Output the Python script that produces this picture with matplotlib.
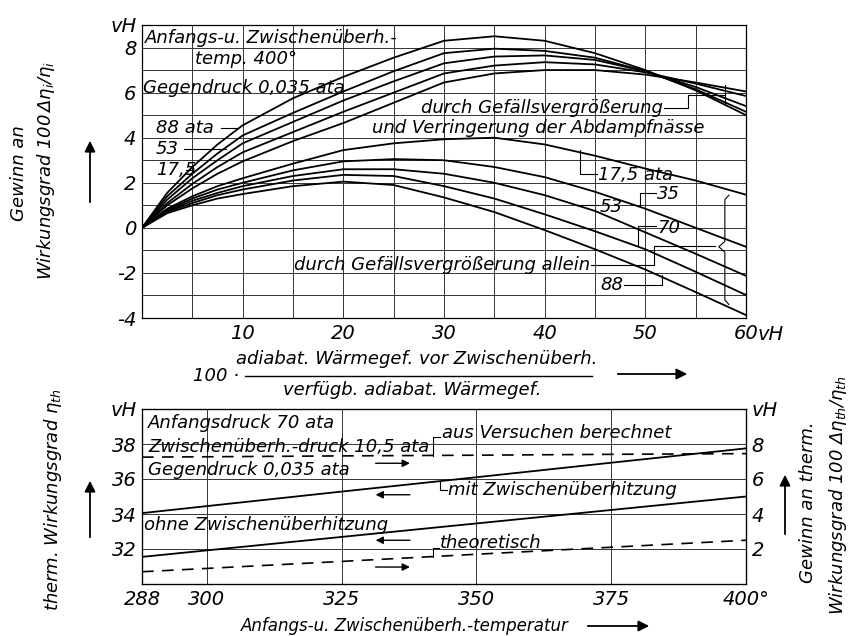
import numpy as np
import matplotlib
matplotlib.use('Agg')
import matplotlib.pyplot as plt

plt.rcParams['font.family'] = ['DejaVu Sans']
plt.rcParams['font.style'] = 'italic'
plt.rcParams['mathtext.fontset'] = 'dejavusans'

# ---- data: upper chart (Gewinn an Wirkungsgrad vs. Anteil Waermegefaelle)
x_share = [0, 2.5, 5, 7.5, 10, 15, 20, 25, 30, 35, 40, 45, 50, 55, 60]

# durch Gefaellsvergroesserung und Verringerung der Abdampfnaesse
nass_88 = [0, 1.55, 2.7, 3.7, 4.55, 5.75, 6.7, 7.55, 8.3, 8.5, 8.3, 7.75, 7.0, 6.1, 5.0]
nass_70 = [0, 1.4, 2.4, 3.3, 4.1, 5.1, 6.05, 6.95, 7.75, 7.95, 7.85, 7.55, 6.95, 6.15, 5.15]
nass_53 = [0, 1.25, 2.2, 3.0, 3.75, 4.7, 5.65, 6.5, 7.3, 7.6, 7.65, 7.45, 6.95, 6.25, 5.4]
nass_35 = [0, 1.1, 1.95, 2.7, 3.35, 4.25, 5.15, 6.0, 6.85, 7.2, 7.35, 7.25, 6.9, 6.4, 5.85]
nass_175 = [0, 1.0, 1.75, 2.4, 2.95, 3.85, 4.65, 5.55, 6.45, 6.85, 7.0, 7.0, 6.8, 6.45, 6.05]

# durch Gefaellsvergroesserung allein
allein_175 = [0, 0.85, 1.4, 1.85, 2.2, 2.85, 3.45, 3.75, 3.93, 4.0, 3.7, 3.2, 2.63, 2.1, 1.47]
allein_35 = [0, 0.8, 1.3, 1.7, 2.0, 2.55, 2.95, 3.05, 3.0, 2.7, 2.25, 1.6, 0.85, 0.0, -0.84]
allein_53 = [0, 0.75, 1.2, 1.55, 1.85, 2.3, 2.6, 2.6, 2.4, 2.0, 1.45, 0.75, -0.2, -1.15, -2.13]
allein_70 = [0, 0.7, 1.1, 1.45, 1.7, 2.1, 2.35, 2.3, 1.85, 1.3, 0.6, -0.15, -0.95, -1.95, -2.98]
allein_88 = [0, 0.65, 1.0, 1.3, 1.5, 1.85, 2.05, 1.9, 1.35, 0.7, -0.1, -0.95, -1.85, -2.85, -3.87]

top_xticks = [0, 5, 10, 15, 20, 25, 30, 35, 40, 45, 50, 55, 60]
top_xlabels = ['', '', '10', '', '20', '', '30', '', '40', '', '50', '', '60']
top_yticks = [-4, -3, -2, -1, 0, 1, 2, 3, 4, 5, 6, 7, 8, 9]
top_ylabels = ['-4', '', '-2', '', '0', '', '2', '', '4', '', '6', '', '8', 'vH']

# ---- data: lower chart (Anfangsdruck 70 ata)
temps = [288, 300, 325, 350, 375, 400]
eta_mit = [34.05, 34.45, 35.28, 36.1, 36.93, 37.75]      # left axis
eta_ohne = [31.55, 31.92, 32.69, 33.46, 34.23, 35.0]     # left axis
gewinn_versuch = [7.25, 7.27, 7.32, 7.36, 7.41, 7.45]     # right axis
gewinn_theor = [0.7, 0.89, 1.29, 1.7, 2.1, 2.5]          # right axis

bot_xlabels = ['288', '300', '325', '350', '375', '400°']
left_yticks = [30, 32, 34, 36, 38, 40]
left_ylabels = ['', '32', '34', '36', '38', 'vH']
right_yticks = [0, 2, 4, 6, 8, 10]
right_ylabels = ['', '2', '4', '6', '8', 'vH']

W, H = 855, 636
fig = plt.figure(figsize=(W / 100, H / 100), dpi=100)
ax1 = fig.add_axes([142 / W, 1 - 318 / H, 604 / W, 293 / H])
ax2 = fig.add_axes([142 / W, 1 - 584 / H, 604 / W, 175 / H])

grid_kw = dict(color='#333333', lw=0.7)
line_kw = dict(color='black', lw=1.3)
fs_tick = 14
fs_txt = 13


def fp(x, y):
    # figure pixel (from top-left) -> figure fraction
    return x / W, 1 - y / H


def arrow_px(x0, y0, x1, y1):
    ax1.annotate('', xy=(x1, H - y1), xytext=(x0, H - y0), xycoords='figure pixels',
                 textcoords='figure pixels', annotation_clip=False,
                 arrowprops=dict(arrowstyle='-|>', color='black', lw=1.3, mutation_scale=16))


# ================= upper chart =================
for ys in [nass_88, nass_70, nass_53, nass_35, nass_175,
           allein_175, allein_35, allein_53, allein_70, allein_88]:
    ax1.plot(x_share, ys, **line_kw)

ax1.set_xlim(0, 60)
ax1.set_ylim(-4, 9)
ax1.set_xticks(top_xticks)
ax1.set_xticklabels(top_xlabels, fontsize=fs_tick)
ax1.set_yticks(top_yticks)
ax1.set_yticklabels(top_ylabels, fontsize=fs_tick)
ax1.tick_params(length=0, pad=4)
ax1.grid(True, **grid_kw)
for s in ax1.spines.values():
    s.set_linewidth(0.9)
ax1.text(61.2, -4.75, 'vH', fontsize=fs_tick, va='center', ha='left')

# text in the upper chart
ax1.text(0.3, 8.44, 'Anfangs-u. Zwischenüberh.-', fontsize=fs_txt, va='center')
ax1.text(5.3, 7.47, 'temp. 400°', fontsize=fs_txt, va='center')
ax1.text(0.1, 6.22, 'Gegendruck 0,035 ata', fontsize=fs_txt, va='center')
ax1.text(1.4, 4.44, '88 ata', fontsize=fs_txt, va='center')
ax1.plot([7.8, 9.4], [4.44, 4.44], color='black', lw=0.8)
ax1.text(1.4, 3.52, '53', fontsize=fs_txt, va='center')
ax1.plot([4.2, 8.3], [3.52, 3.52], color='black', lw=0.8)
ax1.text(1.4, 2.58, '17,5', fontsize=fs_txt, va='center')
ax1.plot([4.4, 5.0], [2.58, 2.58], color='black', lw=0.8)

ax1.text(51.7, 5.33, 'durch Gefällsvergrößerung', fontsize=fs_txt, va='center', ha='right')
ax1.text(22.8, 4.44, 'und Verringerung der Abdampfnässe', fontsize=fs_txt, va='center')
ax1.plot([51.9, 54.2, 54.2, 57.9], [5.33, 5.33, 5.9, 5.9], color='black', lw=0.8)
ax1.plot([57.9, 57.9], [5.45, 6.35], color='black', lw=0.8)

ax1.text(45.3, 2.36, '17,5 ata', fontsize=fs_txt, va='center')
ax1.plot([43.5, 43.5, 45.2], [3.47, 2.4, 2.4], color='black', lw=0.8)
ax1.text(51.2, 1.5, '35', fontsize=fs_txt, va='center')
ax1.plot([49.5, 49.5, 51.1], [1.0, 1.56, 1.56], color='black', lw=0.8)
ax1.text(45.5, 0.93, '53', fontsize=fs_txt, va='center')
ax1.plot([43.2, 45.3], [1.0, 1.0], color='black', lw=0.8)
ax1.text(51.2, 0.0, '70', fontsize=fs_txt, va='center')
ax1.plot([49.25, 49.25, 51.1], [-0.76, 0.09, 0.09], color='black', lw=0.8)
ax1.text(44.5, -1.64, 'durch Gefällsvergrößerung allein', fontsize=fs_txt, va='center', ha='right')
ax1.plot([44.6, 50.9, 50.9, 56.9], [-1.64, -1.64, -0.8, -0.8], color='black', lw=0.8)
ax1.text(47.8, -2.53, '88', fontsize=fs_txt, va='center', ha='right')
ax1.plot([47.9, 51.7, 51.7], [-2.53, -2.53, -2.1], color='black', lw=0.8)
# curly brace for the lower family
ax1.plot([58.3, 57.9, 57.9, 57.3, 57.9, 57.9, 58.3],
         [1.45, 1.25, -0.6, -0.84, -1.08, -3.2, -3.4], color='black', lw=0.8)

# axis text of upper chart
fig.text(*fp(19, 173), 'Gewinn an', rotation=90, fontsize=fs_txt, ha='center', va='center')
fig.text(*fp(46, 170), r'Wirkungsgrad 100$\,\Delta\eta_i/\eta_i$', rotation=90,
         fontsize=fs_txt, ha='center', va='center')
arrow_px(90, 205, 90, 138)

fig.text(*fp(216, 376), '100 ·', fontsize=fs_txt, ha='center', va='center')
fig.text(*fp(417, 359), 'adiabat. Wärmegef. vor Zwischenüberh.', fontsize=fs_txt,
         ha='center', va='center')
fig.add_artist(plt.Line2D([245 / W, 592 / W], [1 - 376 / H, 1 - 376 / H], color='black', lw=1.0))
fig.text(*fp(412, 390), 'verfügb. adiabat. Wärmegef.', fontsize=fs_txt, ha='center', va='center')
arrow_px(615, 374, 690, 374)

# ================= lower chart =================
ax2.plot(temps, eta_mit, **line_kw)
ax2.plot(temps, eta_ohne, **line_kw)
ax2.set_xlim(288, 400)
ax2.set_ylim(30, 40)
ax2.set_xticks(temps)
ax2.set_xticklabels(bot_xlabels, fontsize=fs_tick)
ax2.set_yticks(left_yticks)
ax2.set_yticklabels(left_ylabels, fontsize=fs_tick)
ax2.tick_params(length=0, pad=4)
ax2.grid(True, **grid_kw)
for s in ax2.spines.values():
    s.set_linewidth(0.9)

ax3 = ax2.twinx()
ax3.plot(temps, gewinn_versuch, color='black', lw=1.2, ls=(0, (7, 5)))
ax3.plot(temps, gewinn_theor, color='black', lw=1.2, ls=(0, (7, 5)))
ax3.set_ylim(0, 10)
ax3.set_yticks(right_yticks)
ax3.set_yticklabels(right_ylabels, fontsize=fs_tick)
ax3.tick_params(length=0, pad=4)

ax2.text(289.1, 39.2, 'Anfangsdruck 70 ata', fontsize=fs_txt, va='center')
ax2.text(289.1, 37.85, 'Zwischenüberh.-druck 10,5 ata', fontsize=fs_txt, va='center')
ax2.text(289.1, 36.5, 'Gegendruck 0,035 ata', fontsize=fs_txt, va='center')
ax2.text(288.3, 33.4, 'ohne Zwischenüberhitzung', fontsize=fs_txt, va='center')

ax2.text(343.7, 38.63, 'aus Versuchen berechnet', fontsize=fs_txt, va='center')
ax2.plot([343.3, 342.0, 342.0], [38.4, 38.4, 37.3], color='black', lw=0.8)
ax2.text(344.8, 35.37, 'mit Zwischenüberhitzung', fontsize=fs_txt, va='center')
ax2.plot([343.3, 343.3, 344.5], [35.9, 35.37, 35.37], color='black', lw=0.8)
ax2.text(343.3, 32.36, 'theoretisch', fontsize=fs_txt, va='center')
ax2.plot([343.0, 342.0, 342.0], [32.06, 32.06, 31.55], color='black', lw=0.8)

# small arrows: which scale to read
for y, right in [(36.9, True), (35.1, False), (32.5, False), (30.97, True)]:
    a, b = (330.8, 338.2) if right else (338.2, 330.8)
    ax2.annotate('', xy=(b, y), xytext=(a, y),
                 arrowprops=dict(arrowstyle='-|>', color='black', lw=1.0, mutation_scale=11))

fig.text(*fp(53, 500), r'therm. Wirkungsgrad $\eta_{th}$', rotation=90, fontsize=fs_txt,
         ha='center', va='center')
arrow_px(90, 540, 90, 478)
fig.text(*fp(808, 502), 'Gewinn an therm.', rotation=90, fontsize=fs_txt, ha='center', va='center')
fig.text(*fp(838, 495), r'Wirkungsgrad 100 $\Delta\eta_{th}/\eta_{th}$', rotation=90,
         fontsize=fs_txt, ha='center', va='center')
arrow_px(785, 537, 785, 472)

fig.text(*fp(405, 626), 'Anfangs-u. Zwischenüberh.-temperatur', fontsize=12,
         ha='center', va='center')
arrow_px(585, 626, 652, 626)

fig.savefig('out.png', dpi=100)
